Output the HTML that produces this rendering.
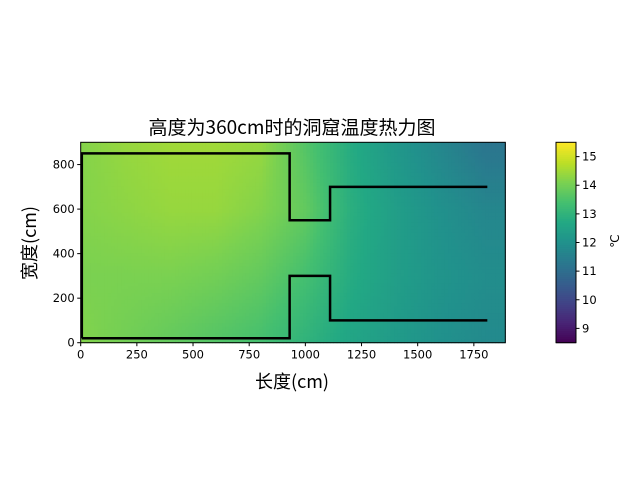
<!DOCTYPE html>
<html><head><meta charset="utf-8"><style>
body{margin:0;background:#fff}
text{font-family:"DejaVu Sans","Liberation Sans","Noto Sans CJK SC",sans-serif}
.cjk{font-family:"WenQuanYi Zen Hei","Noto Sans CJK SC",sans-serif}
</style></head><body>
<svg id="chart" width="640" height="480" xmlns="http://www.w3.org/2000/svg">
<text class="cjk" x="292" y="134" text-anchor="middle" font-size="19">高度为360cm时的洞窟温度热力图</text>
<g id="heat"></g>
<g id="axes"></g>
<text class="cjk" x="292" y="388" text-anchor="middle" font-size="18">长度(cm)</text>
<text class="cjk" transform="translate(36,243) rotate(-90)" text-anchor="middle" font-size="18">宽度(cm)</text>
<g id="cbar"></g>
<text transform="translate(619,241) rotate(-90)" text-anchor="middle" font-size="12">℃</text>
</svg>
<script>
const xCenters=[0,200,400,600,800,1000,1200,1400,1600,1800];
const yCenters=[0,300,600,900];
const row0=[14.2,14.0,13.8,13.6,13.4,13.0,12.6,12.3,12.0,11.8];
const row300=[14.1,14.1,14.1,14.0,13.8,13.4,12.8,12.4,12.1,11.9];
const row600=[14.2,14.3,14.4,14.4,14.2,13.8,12.9,12.4,12.0,11.7];
const row900=[14.2,14.4,14.5,14.5,14.4,13.6,12.8,12.2,11.7,11.2];
const xTicks=[0,250,500,750,1000,1250,1500,1750];
const yTicks=[0,200,400,600,800];
const cTicks=[9,10,11,12,13,14,15];
const wallX=[5,5,930,930,1110,1110,1810];
const wallTopY=[20,850,850,550,550,700,700];
const wallBotX=[5,930,930,1110,1110,1810];
const wallBotY=[20,20,300,300,100,100];
const vmin=8.5,vmax=15.5,X0=0,X1=1890,Y0=0,Y1=900;
const L=80.7,R=505.3,T=142.3,B=342.7;
const sx=v=>L+(v-X0)/(X1-X0)*(R-L), sy=v=>B-(v-Y0)/(Y1-Y0)*(B-T);
const vir=["#440154","#482475","#414487","#355f8d","#2a788e","#21918c","#22a884","#44bf70","#7ad151","#bddf26","#fde725"].map(h=>[1,3,5].map(i=>parseInt(h.substr(i,2),16)));
function cmap(v){let t=Math.max(0,Math.min(1,(v-vmin)/(vmax-vmin)))*10;let i=Math.min(9,Math.floor(t)),f=t-i;const a=vir[i],b=vir[i+1];return`rgb(${a.map((c,k)=>Math.round(c+(b[k]-c)*f)).join(',')})`;}
const rows=[row0,row300,row600,row900];
function val(x,y){
 let i=0;while(i<xCenters.length-2&&x>xCenters[i+1])i++;
 let j=0;while(j<yCenters.length-2&&y>yCenters[j+1])j++;
 let fx=Math.max(0,Math.min(1,(x-xCenters[i])/(xCenters[i+1]-xCenters[i])));
 let fy=Math.max(0,Math.min(1,(y-yCenters[j])/(yCenters[j+1]-yCenters[j])));
 const a=rows[j][i],b=rows[j][i+1],c=rows[j+1][i],d=rows[j+1][i+1];
 return (a*(1-fx)+b*fx)*(1-fy)+(c*(1-fx)+d*fx)*fy;}
const NS="http://www.w3.org/2000/svg";
function mk(tag,attrs,parent){const e=document.createElementNS(NS,tag);for(const k in attrs)e.setAttribute(k,attrs[k]);parent.appendChild(e);return e;}
const heat=document.getElementById('heat');
const step=15;
for(let x=X0;x<X1;x+=step)for(let y=Y0;y<Y1;y+=step){
 const x2=Math.min(x+step,X1),y2=Math.min(y+step,Y1);
 const r=mk('rect',{x:sx(x),y:sy(y2),width:sx(x2)-sx(x)+0.5,height:sy(y)-sy(y2)+0.5,fill:cmap(val((x+x2)/2,(y+y2)/2))},heat);
 
 }
const ax=document.getElementById('axes');
const wallTop=mk('polyline',{points:wallX.map((x,i)=>sx(x)+','+sy(wallTopY[i])).join(' '),fill:'none',stroke:'#000','stroke-width':2.5},ax);


const wallBot=mk('polyline',{points:wallBotX.map((x,i)=>sx(x)+','+sy(wallBotY[i])).join(' '),fill:'none',stroke:'#000','stroke-width':2.5},ax);


const fr=mk('rect',{x:L,y:T,width:R-L,height:B-T,fill:'none',stroke:'#000','stroke-width':1},ax);


xTicks.forEach(v=>{mk('line',{x1:sx(v),x2:sx(v),y1:B,y2:B+3.5,stroke:'#000'},ax);
 const t=mk('text',{x:sx(v),y:B+16,'text-anchor':'middle','font-size':11.5},ax);t.textContent=v;
 
 });
yTicks.forEach(v=>{mk('line',{x1:L-3.5,x2:L,y1:sy(v),y2:sy(v),stroke:'#000'},ax);
 const t=mk('text',{x:L-6,y:sy(v)+4,'text-anchor':'end','font-size':11.5},ax);t.textContent=v;
 
 });
const cb=document.getElementById('cbar');
const CL=556,CR=576,cy=v=>B-(v-vmin)/(vmax-vmin)*(B-T);
for(let i=0;i<100;i++){const v0=vmin+(vmax-vmin)*i/100,v1=vmin+(vmax-vmin)*(i+1)/100;
 mk('rect',{x:CL,y:cy(v1),width:CR-CL,height:cy(v0)-cy(v1)+0.5,fill:cmap((v0+v1)/2)},cb);}
mk('rect',{x:CL,y:T,width:CR-CL,height:B-T,fill:'none',stroke:'#000','stroke-width':1},cb);
cTicks.forEach(v=>{mk('line',{x1:CR,x2:CR+3.5,y1:cy(v),y2:cy(v),stroke:'#000'},cb);
 const t=mk('text',{x:CR+6,y:cy(v)+4,'font-size':11.5},cb);t.textContent=v;
 
 });
</script>
</body></html>
